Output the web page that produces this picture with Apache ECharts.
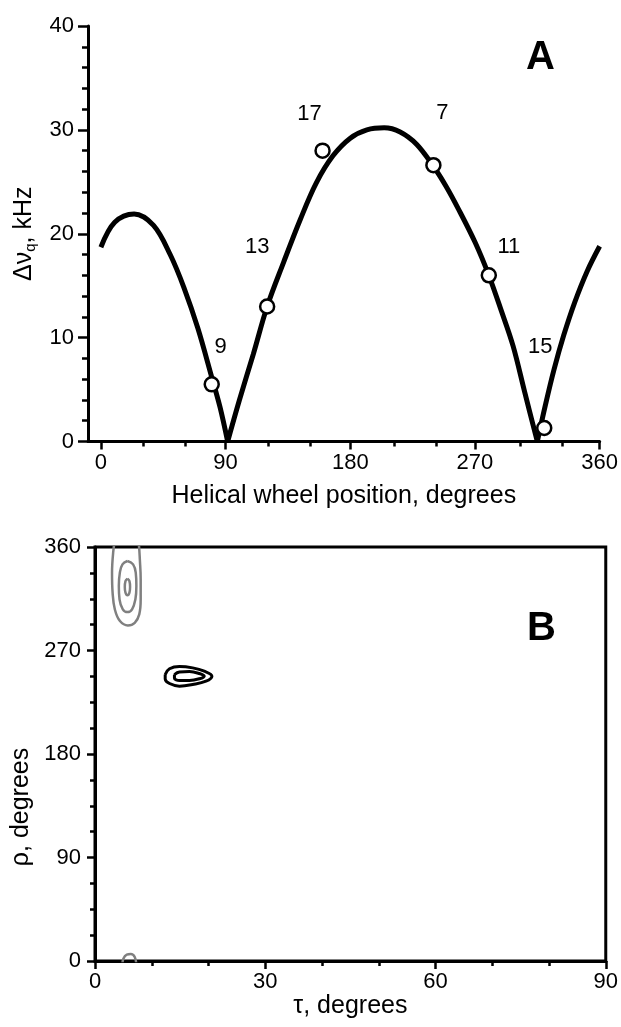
<!DOCTYPE html>
<html>
<head>
<meta charset="utf-8">
<script src="https://cdn.jsdelivr.net/npm/echarts@6.0.0/dist/echarts.min.js"></script>
<style>
  html, body { margin: 0; padding: 0; background: #fff; }
  #main { width: 621px; height: 1027px; }
</style>
</head>
<body>
<div id="main"></div>
<script>
var FONT = "'Liberation Sans', Arial, sans-serif";

// Panel A: fitted curve (three pieces, split at the two zeros)
var curveLeft = [[0, 18.7], [10, 21.1], [24, 21.9], [38, 20.8], [50, 18.0], [60, 14.8],
  [70, 10.9], [80, 6.2], [86, 3.3], [91.5, 0]];
var curveMiddle = [[91.5, 0], [100, 4.0], [110, 8.4], [120, 13.0], [132, 17.3], [144, 21.4],
  [155.5, 24.9], [167.5, 27.5], [180, 29.2], [192, 30.0], [204.5, 30.2], [216, 29.8],
  [228, 28.6], [240, 26.5], [249, 24.6], [258, 22.4], [270, 19.2], [280, 16.0],
  [289, 12.6], [297.5, 9.2], [306, 4.7], [315, 0]];
var curveRight = [[315, 0], [321, 3.6], [327, 6.9], [334, 10.2], [342, 13.4], [351, 16.4], [360, 18.8]];

// Panel A: measured residues
var residues = ['9', '13', '17', '7', '11', '15'];
var wheelPos = [80, 120, 160, 240, 280, 320];
var splitting = [5.5, 13.0, 28.0, 26.6, 16.0, 1.3];
var labelOffsets = [[9, -37], [-10, -60], [-13, -37], [9, -52], [20, -28], [-4, -81]];

var xTicksA = [0, 90, 180, 270, 360];
var xMinorA = [30, 60, 120, 150, 210, 240, 300, 330];

// Panel B: contours (tau, rho)
var grayOuter = [[3.6, 369.6], [3.2, 355.1], [3.0, 337.7], [3.1, 320.3], [3.5, 305.7], [4.4, 295.6],
  [5.8, 291.8], [7.0, 294.1], [7.8, 301.4], [8.05, 314.5], [8.05, 331.9], [7.9, 349.3],
  [7.75, 360.9], [7.5, 369.6], [5.8, 372], [3.6, 369.6]];
var grayMiddle = [[5.72, 347.8], [6.71, 344.9], [7.18, 337.7], [7.29, 326.1], [7.12, 314.5],
  [6.53, 305.8], [5.72, 303.4], [4.9, 305.8], [4.32, 314.5], [4.2, 326.1], [4.38, 337.7],
  [4.84, 344.9], [5.72, 347.8]];
var grayInner = [[5.72, 332.5], [6.07, 330.4], [6.18, 325.2], [6.07, 320.3], [5.72, 318.0],
  [5.37, 320.3], [5.25, 325.2], [5.37, 330.4], [5.72, 332.5]];
var grayWrap = [[4.8, -4], [5.0, 2], [5.6, 5.5], [6.3, 6], [7.0, 3.5], [7.3, -4]];
var blackOuter = [[12.37, 249.1], [13.13, 254.1], [14.88, 256.1], [17.21, 254.9], [19.25, 252.0],
  [20.6, 247.7], [19.55, 243.3], [17.21, 240.4], [14.88, 239.0], [13.13, 241.3],
  [12.37, 245.3], [12.37, 249.1]];
var blackInner = [[14.0, 249.1], [14.88, 251.4], [16.63, 251.7], [18.38, 250.0], [19.25, 247.7],
  [18.38, 245.4], [16.63, 243.9], [14.88, 243.9], [14.0, 245.9], [14.0, 249.1]];

var chart = echarts.init(document.getElementById('main'));

var axisLine = { show: true, onZero: false, lineStyle: { color: '#000', width: 3 } };
var tickLine = { color: '#000', width: 2.5 };
var labelStyle = { color: '#000', fontSize: 22, fontFamily: FONT };
var nameStyle = { color: '#000', fontSize: 25, fontFamily: FONT };

function curveSeries(data) {
  return {
    type: 'line', xAxisIndex: 0, yAxisIndex: 0, data: data, smooth: 0.35,
    symbol: 'none', lineStyle: { color: '#000', width: 5 }, z: 2
  };
}
function contour(data, color, width) {
  return {
    type: 'line', xAxisIndex: 2, yAxisIndex: 2, data: data, smooth: 0.4,
    symbol: 'none', lineStyle: { color: color, width: width }, clip: true
  };
}

var pointData = wheelPos.map(function (x, i) {
  return { value: [x, splitting[i]], name: residues[i], label: { offset: labelOffsets[i] } };
});

var option = {
  animation: false,
  backgroundColor: '#fff',
  textStyle: { fontFamily: FONT },
  grid: [
    { left: 88, right: 17, top: 26, bottom: 585.5 },
    { left: 88, right: 17, top: 26, bottom: 585.5 },
    { left: 95, right: 12, top: 547, bottom: 66, show: true, borderColor: '#000', borderWidth: 3 }
  ],
  xAxis: [
    {
      gridIndex: 0, type: 'value', min: -9.3, max: 360,
      axisLine: axisLine,
      axisTick: { customValues: xTicksA, length: 8, lineStyle: tickLine },
      axisLabel: Object.assign({ customValues: xTicksA, margin: 10 }, labelStyle),
      splitLine: { show: false },
      name: 'Helical wheel position, degrees', nameLocation: 'middle', nameGap: 42,
      nameTextStyle: nameStyle
    },
    {
      gridIndex: 1, type: 'value', min: -9.3, max: 360,
      axisLine: { show: false },
      axisTick: { customValues: xMinorA, length: 5, lineStyle: tickLine },
      axisLabel: { show: false },
      splitLine: { show: false }
    },
    {
      gridIndex: 2, type: 'value', min: 0, max: 90, interval: 30,
      axisLine: axisLine,
      axisTick: { length: 8, lineStyle: tickLine },
      minorTick: { show: true, splitNumber: 3, length: 5, lineStyle: tickLine },
      axisLabel: Object.assign({ margin: 10 }, labelStyle),
      splitLine: { show: false },
      name: 'τ, degrees', nameLocation: 'middle', nameGap: 33,
      nameTextStyle: nameStyle
    }
  ],
  yAxis: [
    {
      gridIndex: 0, type: 'value', min: 0, max: 40, interval: 10,
      axisLine: axisLine,
      axisTick: { length: 10, lineStyle: tickLine },
      minorTick: { show: true, splitNumber: 5, length: 6, lineStyle: tickLine },
      axisLabel: Object.assign({ margin: 14 }, labelStyle),
      splitLine: { show: false },
      name: 'Δν{q|q}, kHz', nameLocation: 'middle', nameGap: 50,
      nameTextStyle: Object.assign({
        rich: { q: { fontSize: 15, fontFamily: FONT, color: '#000', verticalAlign: 'bottom', padding: [12, 0, 0, 0] } }
      }, nameStyle)
    },
    { gridIndex: 1, type: 'value', min: 0, max: 40, show: false },
    {
      gridIndex: 2, type: 'value', min: 0, max: 360, interval: 90,
      axisLine: axisLine,
      axisTick: { length: 8, lineStyle: tickLine },
      minorTick: { show: true, splitNumber: 4, length: 5, lineStyle: tickLine },
      axisLabel: Object.assign({ margin: 14 }, labelStyle),
      splitLine: { show: false },
      name: 'ρ, degrees', nameLocation: 'middle', nameGap: 55,
      nameTextStyle: Object.assign({ padding: [0, 106, 0, 0] }, nameStyle)
    }
  ],
  graphic: [
    { type: 'text', left: 526, top: 38, style: { text: 'A', fontSize: 40, fontWeight: 'bold', fontFamily: FONT, fill: '#000' } },
    { type: 'text', left: 527, top: 609, style: { text: 'B', fontSize: 40, fontWeight: 'bold', fontFamily: FONT, fill: '#000' } }
  ],
  series: [
    curveSeries(curveLeft),
    curveSeries(curveMiddle),
    curveSeries(curveRight),
    {
      type: 'scatter', xAxisIndex: 0, yAxisIndex: 0, data: pointData,
      symbol: 'circle', symbolSize: 14, z: 5,
      itemStyle: { color: '#fff', borderColor: '#000', borderWidth: 2.5, opacity: 1 },
      label: { show: true, position: 'inside', formatter: '{b}', color: '#000', fontSize: 22, fontFamily: FONT }
    },
    contour(grayOuter, '#808080', 2.5),
    contour(grayMiddle, '#808080', 2.5),
    contour(grayInner, '#808080', 2.5),
    contour(grayWrap, '#808080', 2.5),
    contour(blackOuter, '#000', 3),
    contour(blackInner, '#000', 3)
  ]
};

chart.setOption(option);
</script>
</body>
</html>
